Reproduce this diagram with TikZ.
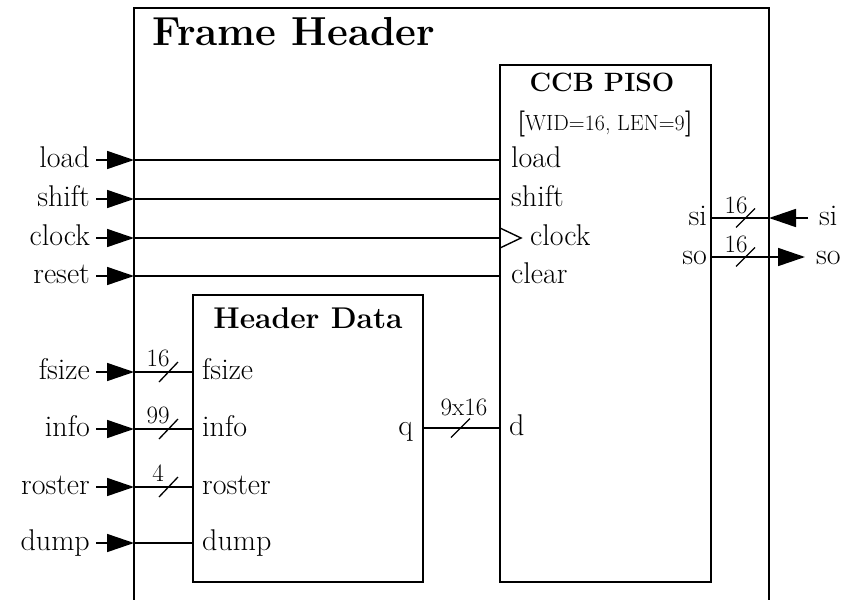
\documentclass[tikz,border=0pt]{standalone}
\usepackage{fontspec}
\usetikzlibrary{arrows.meta}
\tikzset{
  wire/.style={line width=1.6pt},
  inarrow/.style={wire,-{Triangle[length=27pt,width=18pt]}},
  block/.style={draw,line width=1.6pt,inner sep=0pt},
  lbl/.style={font=\fontsize{30}{32}\selectfont,inner sep=0pt},
  buslbl/.style={font=\fontsize{25}{27}\selectfont,inner sep=0pt,anchor=base},
  slash/.style={line width=1.3pt},
  heading/.style={font=\bfseries\fontsize{#1}{#1}\selectfont,inner sep=0pt},
}
\begin{document}
\begin{tikzpicture}[x=1pt,y=-1pt]
\useasboundingbox (0,0) rectangle (847,600);

% enclosing module, its bottom edge runs off the page
\coordinate (fTL) at (134,8);
\coordinate (fTR) at (769,8);
\coordinate (fBL) at (134,606);
\coordinate (fBR) at (769,606);
\draw[wire] (fBL) -- (fTL) -- (fTR) -- (fBR);
\node[heading=40.5,anchor=base west] (ftitle) at (152,45) {Frame Header};

% inner blocks
\node[block,minimum width=211pt,minimum height=517pt] (piso) at (605.5,323.5) {};
\node[block,minimum width=230pt,minimum height=287pt] (hd) at (308,438.5) {};

\node[heading=26.5,anchor=base] (pisotitle) at (602,91) {CCB PISO};
\node[inner sep=0pt,anchor=base] (pisoparam) at (605,130)
  {\bfseries\fontsize{26}{28}\selectfont[\mdseries\fontsize{22}{24}\selectfont WID=16, LEN=9\bfseries\fontsize{26}{28}\selectfont]};
\node[heading=30,anchor=base] (hdtitle) at (308,328) {Header Data};

% CCB PISO ports (text baselines sit 7 units below their wires)
\node[lbl,anchor=base west] (p-load)  at (511,167) {load};
\node[lbl,anchor=base west] (p-shift) at (511,206) {shift};
\node[lbl,anchor=base west] (p-clock) at (530,245) {clock};
\node[lbl,anchor=base west] (p-clear) at (511,283) {clear};
\node[lbl,anchor=base west] (p-d)     at (509,435) {d};
\node[lbl,anchor=base east] (p-si)    at (707,225) {si};
\node[lbl,anchor=base east] (p-so)    at (707,264) {so};
% clock marker
\coordinate (ck1) at (500,228);
\coordinate (ck2) at (521,238);
\coordinate (ck3) at (500,248);
\draw[line width=1.4pt] (ck1) -- (ck2) -- (ck3);

% Header Data ports
\node[lbl,anchor=base west] (h-fsize)  at (202,379) {fsize};
\node[lbl,anchor=base west] (h-info)   at (202,436) {info};
\node[lbl,anchor=base west] (h-roster) at (202,494) {roster};
\node[lbl,anchor=base west] (h-dump)   at (202,550) {dump};
\node[lbl,anchor=base east] (h-q)      at (413,435) {q};

% top level inputs
\foreach \name/\yy in {load/160,shift/199,clock/238,reset/276,fsize/372,info/429,roster/487,dump/543}{
  \node[lbl,anchor=base east] (in-\name) at (90,\yy+7) {\name};
  \coordinate (pin-\name) at (134,\yy);
  \draw[inarrow] ([xshift=6pt]pin-\name -| in-\name.east) -- (pin-\name);
}

% control wires into CCB PISO
\draw[wire] (pin-load)  -- (pin-load  -| piso.west);
\draw[wire] (pin-shift) -- (pin-shift -| piso.west);
\draw[wire] (pin-clock) -- (pin-clock -| piso.west);
\draw[wire] (pin-reset) -- (pin-reset -| piso.west);

% data wires into Header Data
\draw[wire] (pin-fsize)  -- (pin-fsize  -| hd.west);
\draw[wire] (pin-info)   -- (pin-info   -| hd.west);
\draw[wire] (pin-roster) -- (pin-roster -| hd.west);
\draw[wire] (pin-dump)   -- (pin-dump   -| hd.west);

% bus widths on the Header Data inputs
\foreach \yy/\w in {372/16,429/99,487/4}{
  \draw[slash] (159,\yy+10) -- (178,\yy-10);
  \node[buslbl] at (158,\yy-6) {\w};
}

% q -> d bus
\coordinate (qd) at (423,428);
\draw[wire] (qd) -- (qd -| piso.west);
\draw[slash] (451,437.5) -- (470,418.5);
\node[buslbl] (qdw) at (464,415) {9x16};

% serial in / serial out
\coordinate (pin-si) at (769,218);
\coordinate (pin-so) at (769,257);
\node[lbl,anchor=base west] (out-si) at (819,225) {si};
\node[lbl,anchor=base west] (out-so) at (816,264) {so};
\draw[inarrow] ([xshift=-11pt]pin-si -| out-si.west) -- (pin-si);
\draw[inarrow] (pin-so) -- ([xshift=-11pt]pin-so -| out-so.west);
\draw[wire] (pin-si -| piso.east) -- (pin-si);
\draw[wire] (pin-so -| piso.east) -- (pin-so);
\foreach \yy in {218,257}{
  \draw[slash] (736,\yy+9.5) -- (755,\yy-9.5);
  \node[buslbl] at (736,\yy-5) {16};
}
\end{tikzpicture}
\end{document}
